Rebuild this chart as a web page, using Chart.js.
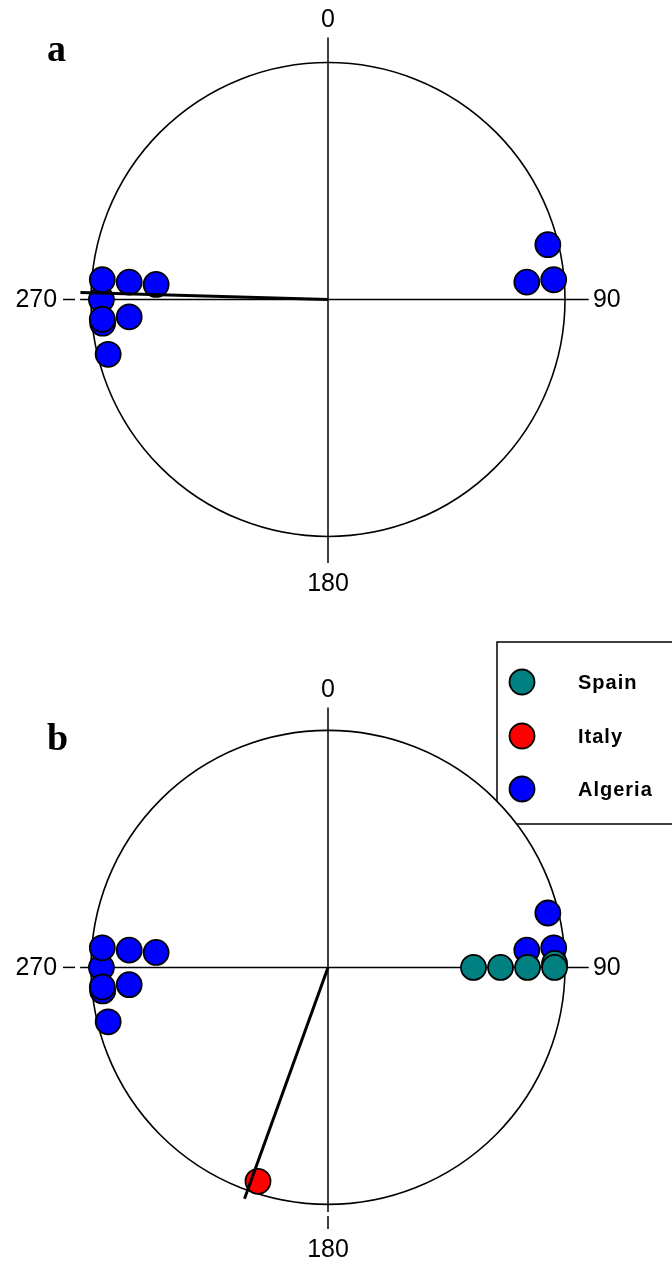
<!DOCTYPE html>
<html>
<head>
<meta charset="utf-8">
<script src="https://cdn.jsdelivr.net/npm/chart.js@4.4.1/dist/chart.umd.min.js"></script>
<style>
    html, body { margin: 0; padding: 0; background: #fff; }
    canvas { display: block; }
</style>
</head>
<body>
<canvas id="panel_a" width="672" height="630"></canvas>
<canvas id="panel_b" width="672" height="634"></canvas>
<script>
// angles in degrees, clockwise from north; equal angles stack inward
const algeria_angles = [270, 275, 275, 275, 264, 265, 265, 256, 85, 85, 76];
const spain_angles = [89, 90, 90, 90, 90];
const italy_angles = [198];
const mean_angle_a = 271.6;
const mean_angle_b = 199.7;
const mean_length = 1.045;
const axis_labels = ['0', '90', '180', '270'];
const legend_labels = ['Spain', 'Italy', 'Algeria'];
const legend_colors = ['#008080', '#ff0000', '#0000ff'];

const RADIUS_PX = 237;
const SPAN = 1.2;
const RIM = 0.956;
const STEP = 0.114;
const LABEL_FONT = '25px "Liberation Sans", Arial, sans-serif';

function stackPoints(angles){
    const seen = {};
    return angles.map(a => {
        const level = seen[a] || 0;
        seen[a] = level + 1;
        const r = RIM - level * STEP;
        const t = a * Math.PI / 180;
        return {x: r * Math.sin(t), y: r * Math.cos(t)};
    });
}

function meanPoints(angle){
    const t = angle * Math.PI / 180;
    return [{x: 0, y: 0}, {x: mean_length * Math.sin(t), y: mean_length * Math.cos(t)}];
}

function dots(angles, color){
    return {
        data: stackPoints(angles),
        pointRadius: 12.5,
        pointBackgroundColor: color,
        pointBorderColor: '#000',
        pointBorderWidth: 1.8,
        clip: false,
        order: 2
    };
}

function meanLine(angle){
    return {
        data: meanPoints(angle),
        showLine: true,
        borderColor: '#000',
        borderWidth: 3,
        pointRadius: 0,
        clip: false,
        order: 0
    };
}

// straight piece of an axis, in data units
function segment(ctx, xs, ys, x0, y0, x1, y1){
    ctx.beginPath();
    ctx.moveTo(xs.getPixelForValue(x0), ys.getPixelForValue(y0));
    ctx.lineTo(xs.getPixelForValue(x1), ys.getPixelForValue(y1));
    ctx.stroke();
}

const circleFrame = {
    id: 'circleFrame',
    beforeDatasetsDraw(chart, args, opts){
        const ctx = chart.ctx;
        const xs = chart.scales.x;
        const ys = chart.scales.y;
        const cx = xs.getPixelForValue(0);
        const cy = ys.getPixelForValue(0);
        const r = xs.getPixelForValue(1) - cx;
        ctx.save();

        if(opts.legend){
            // box, hidden where it falls inside the circle
            ctx.save();
            ctx.beginPath();
            ctx.rect(0, 0, chart.width, chart.height);
            ctx.arc(cx, cy, r, 0, Math.PI * 2);
            ctx.clip('evenodd');
            ctx.fillStyle = '#fff';
            ctx.fillRect(497, 12, 200, 182);
            ctx.strokeStyle = '#000';
            ctx.lineWidth = 1.5;
            ctx.strokeRect(497, 12, 200, 182);
            ctx.restore();
        }

        ctx.strokeStyle = '#000';
        ctx.lineWidth = 1.6;
        ctx.beginPath();
        ctx.arc(cx, cy, r, 0, Math.PI * 2);
        ctx.stroke();

        ctx.lineWidth = 1.5;
        // vertical axis
        if(opts.vgap){
            segment(ctx, xs, ys, 0, 1.105, 0, opts.vgap[1]);
            segment(ctx, xs, ys, 0, opts.vgap[0], 0, -1.112);
        } else {
            segment(ctx, xs, ys, 0, 1.105, 0, -1.112);
        }
        // horizontal axis
        segment(ctx, xs, ys, -1.118, 0, opts.hgap[0], 0);
        segment(ctx, xs, ys, opts.hgap[1], 0, 1.10, 0);

        ctx.fillStyle = '#000';
        ctx.font = LABEL_FONT;
        ctx.textBaseline = 'middle';
        ctx.textAlign = 'center';
        ctx.fillText(axis_labels[0], cx, ys.getPixelForValue(1.177));
        ctx.fillText(axis_labels[2], cx, ys.getPixelForValue(-1.2));
        ctx.textAlign = 'left';
        ctx.fillText(axis_labels[1], xs.getPixelForValue(1.118), cy + 1);
        ctx.textAlign = 'right';
        ctx.fillText(axis_labels[3], xs.getPixelForValue(-1.143), cy + 1);

        // panel letter
        ctx.textAlign = 'left';
        ctx.textBaseline = 'alphabetic';
        ctx.font = 'bold 38px "Liberation Serif", "Times New Roman", serif';
        ctx.fillText(opts.letter, 47, opts.letter_y);
        ctx.restore();
    },
    afterDraw(chart, args, opts){
        if(!opts.legend) return;
        const ctx = chart.ctx;
        const rows = [52, 106, 159];
        ctx.save();
        legend_labels.forEach((label, i) => {
            ctx.beginPath();
            ctx.arc(522, rows[i], 12.5, 0, Math.PI * 2);
            ctx.fillStyle = legend_colors[i];
            ctx.fill();
            ctx.lineWidth = 1.8;
            ctx.strokeStyle = '#000';
            ctx.stroke();
            ctx.fillStyle = '#000';
            ctx.font = 'bold 20px "Liberation Sans", Arial, sans-serif';
            ctx.letterSpacing = '1px';
            ctx.textBaseline = 'middle';
            ctx.textAlign = 'left';
            ctx.fillText(label, 578, rows[i] + 1);
        });
        ctx.restore();
    }
};

function makePanel(canvas_id, datasets, frame){
    const canvas = document.getElementById(canvas_id);
    const cx = 328;
    const half = RADIUS_PX * SPAN;
    return new Chart(canvas.getContext('2d'), {
        type: 'scatter',
        data: {datasets: datasets},
        options: {
            responsive: false,
            animation: false,
            devicePixelRatio: 1,
            events: [],
            layout: {
                padding: {
                    left: cx - half,
                    right: canvas.width - cx - half,
                    top: frame.center_y - half,
                    bottom: canvas.height - frame.center_y - half
                }
            },
            scales: {
                x: {type: 'linear', min: -SPAN, max: SPAN, display: false},
                y: {type: 'linear', min: -SPAN, max: SPAN, display: false}
            },
            plugins: {
                legend: {display: false},
                tooltip: {enabled: false},
                circleFrame: frame
            }
        },
        plugins: [circleFrame]
    });
}

makePanel('panel_a', [
    meanLine(mean_angle_a),
    dots(algeria_angles, legend_colors[2])
], {center_y: 299.5, letter: 'a', letter_y: 61, legend: false, hgap: [-1.0675, -1.046], vgap: null});

const spain = dots(spain_angles, legend_colors[0]);
spain.order = 1;
const italy = dots(italy_angles, legend_colors[1]);
italy.order = 1;

makePanel('panel_b', [
    meanLine(mean_angle_b),
    spain,
    italy,
    dots(algeria_angles, legend_colors[2])
], {center_y: 339.5, letter: 'b', letter_y: 120, legend: true, hgap: [-1.0675, -1.046], vgap: [-1.057, -1.040]});
</script>
</body>
</html>
